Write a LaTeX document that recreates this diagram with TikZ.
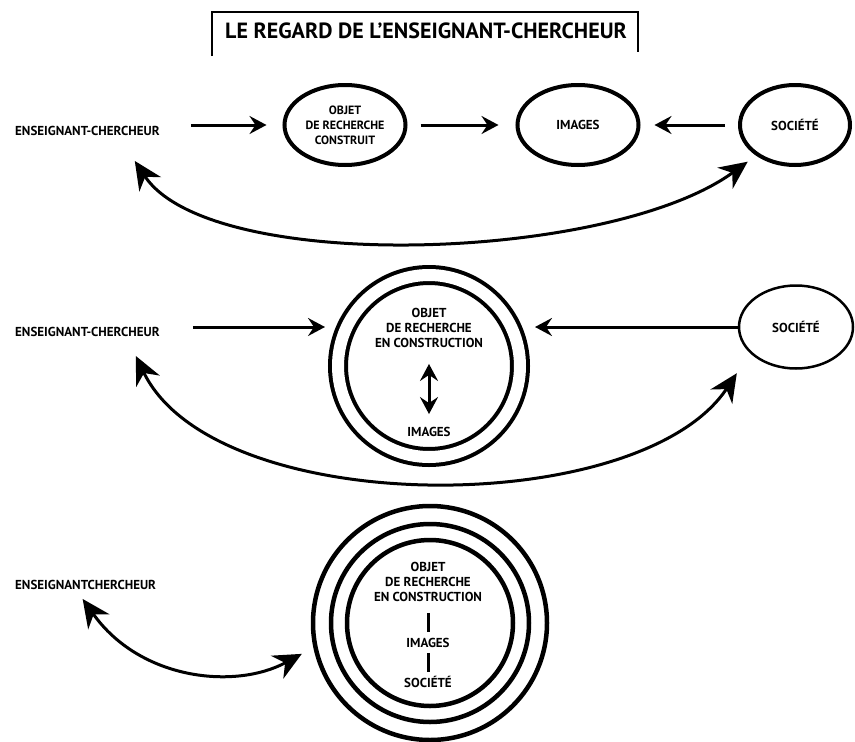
\documentclass[tikz,border=0pt]{standalone}
\usepackage{fontspec}
\setmainfont{PT Sans}
\usetikzlibrary{arrows.meta,shapes.geometric}
\tikzset{
    lbl/.style={font=\bfseries\fontsize{13}{15}\selectfont,inner sep=0,align=center},
    bubble/.style={ellipse,draw,line width=4pt,inner sep=0,lbl},
    flow/.style={->,line width=3pt},
    swing/.style={{Stealth[length=28pt,width=26pt,inset=9pt]}-{Stealth[length=28pt,width=26pt,inset=9pt]},line width=3pt},
}
\begin{document}
\begin{tikzpicture}[x=1pt,y=-1pt,>={Stealth[length=17pt,width=18pt,inset=6pt]}]
    \useasboundingbox(0,0)rectangle(855,742);
    \node[font=\bfseries\fontsize{22}{26}\selectfont,inner sep=0](T)at(426,31){LE REGARD DE L'ENSEIGNANT-CHERCHEUR};
    \draw[line width=1.5pt](212,56)--(212,12)--(638,12)--(638,52);
    % first row
    \node[lbl,anchor=west](E1)at(15,131){ENSEIGNANT-CHERCHEUR};
    \node[bubble,font=\bfseries\fontsize{12}{15}\selectfont,minimum width=121pt,minimum height=80pt](O1)at(345,125){OBJET\\DE RECHERCHE\\CONSTRUIT};
    \node[bubble,minimum width=121pt,minimum height=80pt](I1)at(578,125){IMAGES};
    \node[bubble,minimum width=110pt,minimum height=80pt](S1)at(795,125){SOCIÉTÉ};
    \draw[flow,shorten <=31pt,shorten >=16pt](O1.west-|E1.east)--(O1.west);
    \draw[flow,shorten <=13pt,shorten >=17pt](O1.east)--(I1.west);
    \draw[flow,shorten <=13pt,shorten >=14pt](S1.west)--(I1.east);
    \draw[swing]([xshift=-25pt,yshift=-25pt]E1.south east).. controls(210,275)and(610,262)..([xshift=-7pt,yshift=-7pt]S1.south west);
    % second row
    \node[lbl,anchor=west](E2)at(15,332){ENSEIGNANT-CHERCHEUR};
    \node[circle,draw,line width=4pt,double,double distance=12pt,minimum size=182pt,inner sep=0](O2)at(429,366){};
    \node[lbl](O2t)at(429,328){OBJET\\DE RECHERCHE\\EN CONSTRUCTION};
    \node[lbl](I2)at(429,432){IMAGES};
    \node[bubble,line width=2.5pt,minimum width=114pt,minimum height=83pt](S2)at(796,327){SOCIÉTÉ};
    \draw[<->,line width=3pt,shorten <=16pt,shorten >=13pt](O2t)--(I2);
    \draw[flow,shorten <=33pt,shorten >=11pt](S2.west-|E2.east)--(S2.west-|O2.west);
    \draw[flow,shorten >=13pt](S2.west)--(S2.west-|O2.east);
    \draw[swing]([xshift=-24pt,yshift=-19pt]E2.south east).. controls(215,520)and(640,520)..([xshift=-18pt,yshift=-16pt]S2.south west);
    % third row
    \node[lbl,anchor=west](E3)at(15,585){ENSEIGNANTCHERCHEUR};
    \node[circle,draw,line width=4.5pt,minimum size=234pt,inner sep=0](O3)at(430,623){};
    \draw[line width=4.5pt](O3.center)circle(99pt)(O3.center)circle(83pt);
    \node[lbl](O3t)at(428,582){OBJET\\DE RECHERCHE\\EN CONSTRUCTION};
    \node[lbl](I3)at(428,643){IMAGES};
    \node[lbl](S3)at(428,682){SOCIÉTÉ};
    \draw[line width=3pt,shorten <=11pt,shorten >=6pt](O3t)--(I3);
    \draw[line width=3pt,shorten <=5pt,shorten >=4pt](I3)--(S3);
    \draw[swing]([xshift=-3pt,yshift=-9pt]E3.south).. controls(140,680)and(235,690)..([xshift=-13pt]O3.195);
\end{tikzpicture}
\end{document}
